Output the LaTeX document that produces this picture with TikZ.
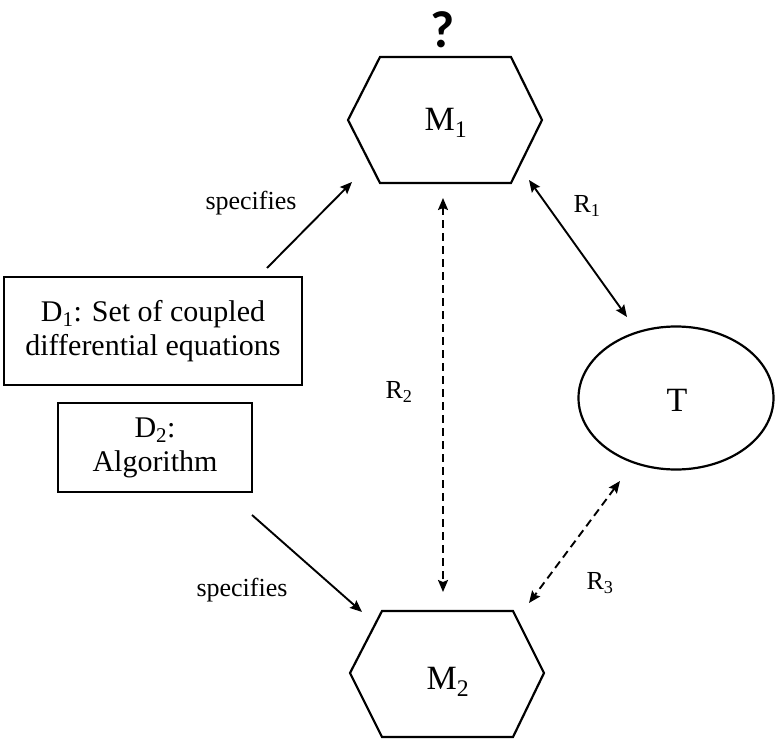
\documentclass[tikz,border=0pt]{standalone}
\usepackage{fontspec}
\setmainfont{Liberation Serif}
\newfontfamily\qfont{Carlito}
\usetikzlibrary{arrows.meta}
\tikzset{
  shapeline/.style={line width=2.2pt, line join=miter},
  conn/.style={line width=1.9pt, {Stealth[length=12pt,width=10pt,inset=2pt]}-{Stealth[length=12pt,width=10pt,inset=2pt]}},
  oneway/.style={line width=1.9pt, -{Stealth[length=12pt,width=10pt,inset=2pt]}},
  dashedline/.style={dash pattern=on 8pt off 5pt},
  bigtxt/.style={font=\fontsize{30}{34}\selectfont, align=center},
  hugetxt/.style={font=\fontsize{34}{38}\selectfont},
  smalltxt/.style={font=\fontsize{26}{30}\selectfont},
}
\begin{document}
\begin{tikzpicture}[x=1pt,y=-1pt]
\useasboundingbox (0,0) rectangle (776,741);
% M1 hexagon
\draw[shapeline] (380,57) -- (511,57) -- (542,120) -- (511,183) -- (380,183) -- (348,120) -- cycle;
\node[hugetxt] (m1) at (446,123) {M\textsubscript{1}};
\node[font=\qfont\bfseries\fontsize{52}{52}\selectfont] (q) at (443,30) {?};
% M2 hexagon
\draw[shapeline] (382,611) -- (513,611) -- (544,673) -- (513,737) -- (382,737) -- (350,673) -- cycle;
\node[hugetxt] (m2) at (448,682) {M\textsubscript{2}};
% D1 box
\node[draw, shapeline, bigtxt, minimum width=298pt, minimum height=108pt, inner sep=0pt] (d1) at (153,331)
  {D\textsubscript{1}: Set of coupled\\differential equations};
% D2 box
\node[draw, shapeline, bigtxt, minimum width=194pt, minimum height=89pt, inner sep=0pt] (d2) at (155,447.5)
  {D\textsubscript{2}:\\Algorithm};
% T ellipse
\draw[shapeline] (676,398) ellipse [x radius=97.5, y radius=71.5];
\node[hugetxt] (t) at (677,400) {T};
% endpoints
\coordinate (s1a) at (267,268);
\coordinate (s1b) at (352,182);
\coordinate (s2a) at (252,515);
\coordinate (s2b) at (362,612);
\coordinate (r2a) at (443,198);
\coordinate (r2b) at (443,592);
\coordinate (r1a) at (529,180);
\coordinate (r1b) at (627,317);
\coordinate (r3a) at (620,481);
\coordinate (r3b) at (529,603);
% connectors
\draw[oneway] (s1a) -- (s1b);
\draw[oneway] (s2a) -- (s2b);
\draw[conn, dashedline] (r2a) -- (r2b);
\draw[conn] (r1a) -- (r1b);
\draw[conn, dashedline] (r3a) -- (r3b);
% labels
\node[smalltxt] (l1) at (251,203) {specifies};
\node[smalltxt] (l2) at (242,590) {specifies};
\node[smalltxt] (lr1) at (587,206) {R\textsubscript{1}};
\node[smalltxt] (lr2) at (399,392) {R\textsubscript{2}};
\node[smalltxt] (lr3) at (600,583) {R\textsubscript{3}};
\end{tikzpicture}
\end{document}
